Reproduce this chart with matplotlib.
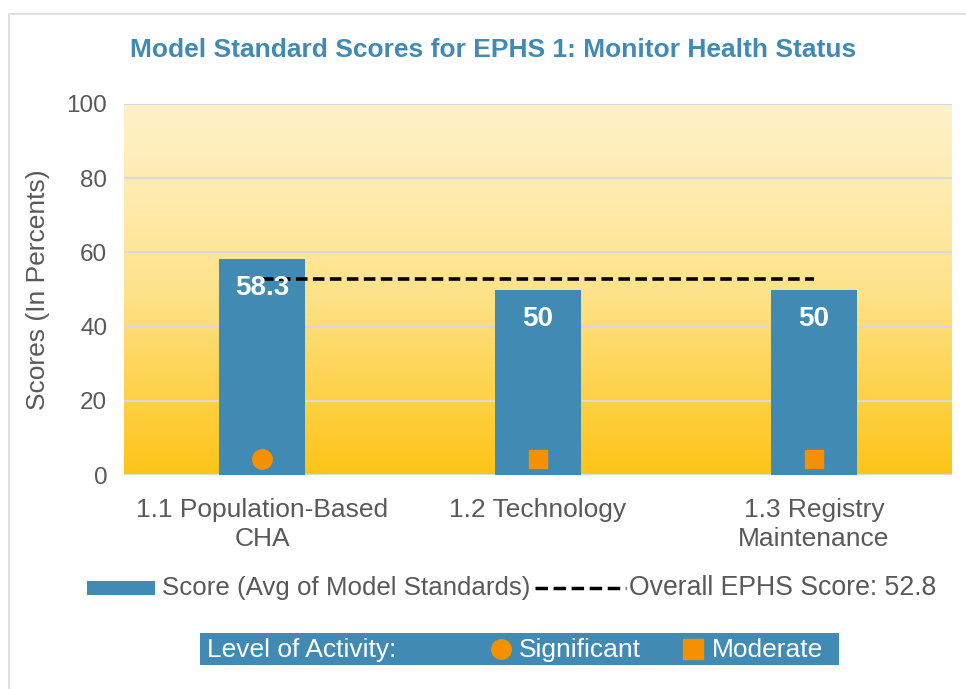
import numpy as np
import matplotlib.pyplot as plt
from matplotlib.patches import Rectangle
from matplotlib.lines import Line2D
from matplotlib.colors import LinearSegmentedColormap

plt.rcParams['font.family'] = ['Liberation Sans', 'DejaVu Sans']

categories = ["1.1 Population-Based\nCHA", "1.2 Technology", "1.3 Registry\nMaintenance"]
scores = [58.3, 50, 50]
score_labels = ["58.3", "50", "50"]
overall = 52.8
activity = ["Significant", "Moderate", "Moderate"]
marker_y = [4.3, 4.3, 4.3]
yticks = [0, 20, 40, 60, 80, 100]
legend_labels = ["Score (Avg of Model Standards)", "Overall EPHS Score: 52.8"]
activity_title = "Level of Activity:"

BLUE = "#418AB3"
ORANGE = "#F59100"
GRAY = "#595959"
W, H = 966, 689

def fx(px):
    return px / W

def fy(py):
    return 1 - py / H

fig = plt.figure(figsize=(9.66, 6.89), dpi=100)
# outer border
fig.patches.append(Rectangle((fx(9), -0.01), 1.0, fy(14) + 0.01, transform=fig.transFigure,
                             fill=False, edgecolor="#D9D9D9", linewidth=1.2))

ax = fig.add_axes([fx(124), fy(475), fx(952 - 124), (475 - 104) / H])
x = np.arange(len(categories))
ax.set_xlim(-0.5, len(categories) - 0.5)
ax.set_ylim(0, 100)

# gradient background
cmap = LinearSegmentedColormap.from_list("g", ["#FDC416", "#FEE38C", "#FFF2CC"])
grad = np.linspace(0, 1, 256).reshape(-1, 1)
ax.imshow(grad, extent=[-0.5, len(categories) - 0.5, 0, 100], origin="lower",
          aspect="auto", cmap=cmap, zorder=0)

for t in yticks:
    ax.axhline(t, color="#D9D9D9", linewidth=1.6, zorder=1)

ax.bar(x, scores, width=0.312, color=BLUE, zorder=2)
dash = (0, (3.2, 1.5))
ax.plot([x[0], x[-1]], [overall, overall], linestyle=dash, color="black",
        linewidth=2.6, zorder=3)

for xi, s, lab in zip(x, scores, score_labels):
    ax.annotate(lab, (xi, s), xytext=(0, -21), textcoords="offset points",
                ha="center", va="center", color="white", fontsize=20, fontweight="bold", zorder=4)

for xi, a, my in zip(x, activity, marker_y):
    if a == "Significant":
        ax.plot(xi, my, marker="o", markersize=14, color=ORANGE, linestyle="none", zorder=4)
    else:
        ax.plot(xi, my, marker="s", markersize=13.5, color=ORANGE, linestyle="none", zorder=4)

for s in ax.spines.values():
    s.set_visible(False)
ax.set_yticks(yticks)
ax.set_yticklabels([str(t) for t in yticks], fontsize=17.5, color=GRAY)
ax.set_xticks(x)
ax.set_xticklabels(categories, fontsize=19, color=GRAY, linespacing=1.25)
ax.tick_params(axis="y", length=0, pad=12)
ax.tick_params(axis="x", length=0, pad=16.5)
ax.set_ylabel("Scores (In Percents)", fontsize=19, color=GRAY, labelpad=12)

fig.text(fx(493), fy(50), "Model Standard Scores for EPHS 1: Monitor Health Status",
         ha="center", va="center", fontsize=19, fontweight="bold", color=BLUE)

# series legend
ly = 588
fig.patches.append(Rectangle((fx(87), fy(595)), fx(155 - 87), 14 / H, transform=fig.transFigure,
                             facecolor=BLUE, edgecolor="none"))
fig.text(fx(162), fy(ly), legend_labels[0], ha="left", va="center", fontsize=18.6, color=GRAY)
fig.lines.append(Line2D([fx(535), fx(626)], [fy(ly), fy(ly)], color="black", linestyle=(0, (3.6, 1.6)),
                        linewidth=2.5, transform=fig.transFigure))
fig.text(fx(629), fy(ly), legend_labels[1], ha="left", va="center", fontsize=19.2, color=GRAY)

# level of activity box
fig.patches.append(Rectangle((fx(200), fy(665)), fx(839 - 200), 32 / H, transform=fig.transFigure,
                             facecolor=BLUE, edgecolor="none"))
yb = fy(650)
fig.text(fx(207), yb, activity_title, ha="left", va="center", fontsize=19, color="white")
fig.lines.append(Line2D([fx(501)], [fy(649)], marker="o", markersize=14, color=ORANGE,
                        transform=fig.transFigure))
fig.text(fx(519), yb, "Significant", ha="left", va="center", fontsize=19, color="white")
fig.lines.append(Line2D([fx(693)], [fy(649)], marker="s", markersize=14, color=ORANGE,
                        transform=fig.transFigure))
fig.text(fx(712), yb, "Moderate", ha="left", va="center", fontsize=19, color="white")

fig.savefig("out.png", dpi=100)
